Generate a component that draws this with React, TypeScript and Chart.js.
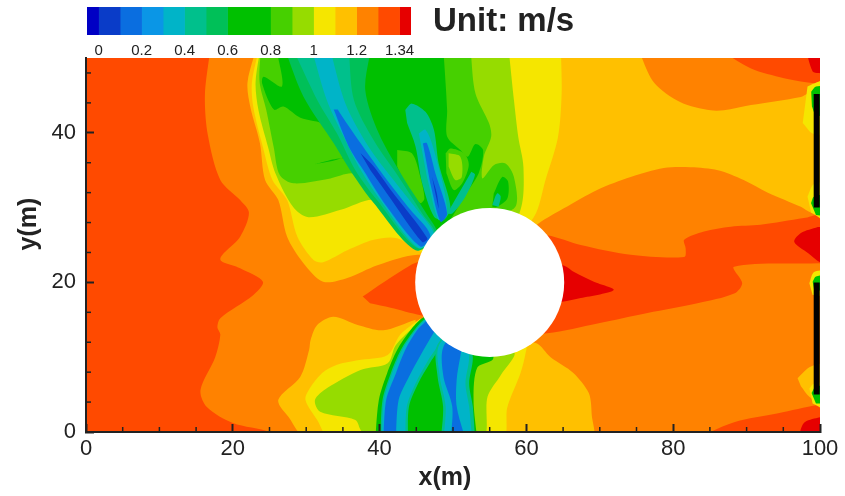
import React, { useEffect, useRef } from "react";
import { Chart, registerables } from "chart.js";

Chart.register(...registerables);

type P = [number, number];

// ---- palette of contour levels ----
const C_NAVY = "#0000c4";
const C_BLUE1 = "#0a3cc8";
const C_BLUE2 = "#0a6ee0";
const C_BLUE3 = "#0a96e6";
const C_CYAN = "#00b4c8";
const C_TEAL = "#00c08c";
const C_TGREEN = "#00c058";
const C_GREEN = "#00c000";
const C_LGREEN = "#46d000";
const C_LIME = "#96dc00";
const C_YELLOW = "#f5e600";
const C_YORANGE = "#ffc000";
const C_ORANGE = "#ff8200";
const C_RORANGE = "#ff4a00";
const C_RED = "#e60000";

// ---- colour bar ----
const barEdges = [-0.054, 0, 0.1, 0.2, 0.3, 0.4, 0.5, 0.6, 0.7, 0.8, 0.9, 1.0, 1.1, 1.2, 1.3, 1.4, 1.453];
const barColors = [C_NAVY, C_BLUE1, C_BLUE2, C_BLUE3, C_CYAN, C_TEAL, C_TGREEN, C_GREEN, C_GREEN, C_LGREEN, C_LIME, C_YELLOW, C_YORANGE, C_ORANGE, C_RORANGE, C_RED];
const barTickValues = [0, 0.2, 0.4, 0.6, 0.8, 1, 1.2, 1.4];
const barTickLabels = ["0", "0.2", "0.4", "0.6", "0.8", "1", "1.2", "1.34"];

// ---- axes ----
const xMinorTicks = [5, 10, 15, 25, 30, 35, 45, 50, 55, 65, 70, 75, 85, 90, 95];
const yMinorTicks = [4, 8, 12, 16, 24, 28, 32, 36, 44, 48];

// ---- contour regions, x(m), y(m) ----
const baseField: P[] = [[-1, -1], [101, -1], [101, 51], [-1, 51]];
const orangeField: P[] = [[16.9, 51], [16.2, 45], [16.6, 39.7], [18.3, 33.7], [21, 31], [22.2, 29.3], [21, 26.1], [18.3, 23.1], [21, 21.9], [24.1, 20.1], [22.8, 18.3], [18.3, 15.2], [17.9, 14], [18.3, 13], [17.6, 10], [15.6, 5.6], [16.5, 3.3], [20, 1.2], [25.1, 0], [26, -1], [101, -1], [101, 51]];
const yoUpper: P[] = [[23.1, 51], [22, 46.7], [22.4, 43.4], [23.7, 38.6], [24.4, 33.7], [26.2, 31], [27.4, 26.1], [29.6, 22.6], [32.3, 20.1], [35.6, 20.6], [39.7, 22.3], [45.2, 23.7], [55.1, 23], [61.7, 27.9], [65.1, 29.9], [69.7, 32.4], [74.2, 34.1], [78.7, 35.3], [82.4, 35.4], [86.1, 35], [89.6, 33.7], [92.9, 32], [97.4, 30.1], [98.8, 29.3], [101, 29], [101, 51]];
const yoLowerLeft: P[] = [[44.9, 15], [40.5, 13.6], [37, 14.3], [33.7, 15.4], [31.5, 14.3], [30.6, 12.3], [30.4, 11], [29.2, 7.4], [26.2, 4.3], [27.6, 2], [30.2, -1], [45, -1]];
const yoLowerRight: P[] = [[56.5, 12.3], [61.3, 11.9], [63.3, 10], [66.4, 7.9], [68.5, 5.2], [68.9, 2.3], [68.9, -1], [50, -1]];
const orangeLobe: P[] = [[75.3, 51], [77.4, 46.7], [81, 44.1], [85.1, 43], [86.9, 43], [90.6, 43.7], [97.4, 44.8], [98.5, 45.3], [101, 45.3], [101, 51]];
const roTop: P[] = [[86.5, 51], [90.6, 48.6], [95.1, 47.3], [97.85, 46.8], [100, 46.6], [101, 46.6], [101, 51]];
const redTop: P[] = [[98.1, 51], [99, 48.2], [99.8, 48], [101, 48], [101, 51]];
const roBottom: P[] = [[82.8, -1], [88.3, 1.3], [94.3, 2.5], [99.7, 3.6], [101, 3.6], [101, -1]];
const redBottom: P[] = [[97, -1], [97.8, 1.2], [99.7, 1.9], [101, 2], [101, -1]];
const roBand: P[] = [[55, 27], [62.85, 26.3], [67.4, 25], [74.2, 23.7], [81.5, 23.4], [81.7, 24.5], [81.5, 25.7], [84.2, 26.8], [87.85, 27.45], [91.9, 27.7], [97.8, 28.6], [101, 29], [101, 22.5], [99.8, 22.55], [88.3, 22.1], [89.4, 19.9], [88.3, 18.5], [83.3, 17.2], [76.5, 15.9], [69.7, 14.5], [62.85, 13.2], [55, 13]];
const redWake: P[] = [[60, 22], [64.9, 22.3], [66.5, 21.4], [69.2, 20.1], [71.9, 19], [67.4, 17.9], [64.9, 17.4], [60, 17]];
const redEdge: P[] = [[99.7, 27.4], [97.4, 26.6], [96.5, 25.4], [98.4, 23.9], [100, 22.7], [101, 22.7], [101, 27.4]];
const roBlob: P[] = [[37.7, 18.1], [40.5, 20], [44.2, 22.3], [45.2, 22.7], [50, 23], [50, 15], [45.6, 15.6], [41.5, 16.6], [38.7, 17.2]];

const yellowUpper: P[] = [[23.5, 51], [22.6, 46.7], [22.8, 43.4], [24.1, 38.1], [25.4, 33.7], [27.4, 31], [28.8, 26.1], [31, 23], [32.3, 22.7], [35.6, 24.3], [39.2, 25.7], [42.4, 25.9], [45.6, 24.1], [55.1, 22.3], [61, 28.7], [62.6, 33.7], [64.3, 39.4], [64.8, 45.3], [64.7, 51]];
const yellowLowerLeft: P[] = [[45.6, 15.2], [42.8, 13], [41.1, 10.3], [37, 9.6], [34.2, 9], [32.3, 8], [30.6, 6], [29.9, 4.3], [31.5, 1.6], [33.3, -1], [45, -1]];
const yellowLowerRight: P[] = [[50, 12], [59.9, 11.6], [59.9, 10.6], [59.2, 7.9], [57.4, 3.3], [56.8, -1], [50, -1]];
const limeUpper: P[] = [[23.7, 51], [23.1, 46.7], [23.5, 43], [24.8, 38.1], [25.8, 34.6], [28.2, 30.1], [30.3, 28.7], [34.7, 29.7], [39.4, 31], [42.8, 27.7], [46.2, 24.3], [55.1, 22.3], [59.2, 29.7], [59.6, 35.4], [58.9, 39.4], [58.3, 44.4], [57.6, 51]];
const limeLowerLeft: P[] = [[44.9, 14.3], [42.2, 11.6], [41.1, 9.2], [37.4, 8.3], [32.9, 5.9], [31.2, 4.3], [31.9, 2.7], [36.7, 1.6], [37.4, 0.3], [38.5, -1], [45, -1]];
const limeLowerRight: P[] = [[50, 12], [58.3, 10.7], [56.5, 7.6], [54.7, 4.7], [54.2, -1], [50, -1]];

const lgreenUpper: P[] = [[23.8, 51], [23.65, 46.8], [24.56, 43.05], [25.56, 38.15], [26.4, 34.36], [28.3, 33.24], [33.3, 33.9], [36.56, 34.5], [39.65, 31.46], [45.1, 24.8], [55.1, 28.8], [58.5, 30.1], [58.3, 34.1], [57.15, 35.9], [55.6, 35.7], [54, 33.9], [54.2, 36.8], [55.2, 39.5], [54.9, 41.3], [53.05, 45.3], [52.4, 51]];
const greenUpper: P[] = [[26, 51], [26.7, 46.2], [24.2, 47.5], [24, 46.6], [25.6, 43.1], [26.9, 43.5], [29.2, 42], [32.6, 41], [35.3, 37], [31.2, 35.8], [35.6, 36.5], [37.8, 33.2], [45.1, 24.8], [49.2, 27.9], [51.5, 31.5], [53.5, 34.6], [54.1, 37.7], [53.05, 38.5], [52, 36.8], [51, 37.7], [49.2, 39.5], [49.2, 43.05], [48.7, 51]];
const lgreenPatch: P[] = [[49, 37.25], [49.65, 37.9], [51.5, 37.25], [52.15, 35.7], [51.25, 33.25], [50.1, 32.35], [49.1, 34.6]];
const limeSpot: P[] = [[49.4, 37.25], [51, 36.8], [51.2, 34.1], [50.3, 33.7], [49.4, 35.5]];
const lgreenSpot: P[] = [[42.4, 37.7], [44.4, 37.25], [45.55, 34.1], [46.1, 31.2], [45.55, 30.6], [43.7, 32.8], [42.4, 35.5]];
const tealFinger: P[] = [[52.5, 34.8], [53, 34.4], [51.7, 31.5], [49.9, 29.2], [49.2, 29.2]];
const greenLobe: P[] = [[55.55, 31.9], [56.7, 34.1], [57.5, 33.5], [57.4, 31.2], [56, 30.1], [55.35, 30.1]];
const tealLobe: P[] = [[55.35, 30.35], [56, 31.9], [56.5, 31.5], [56.2, 30.1]];

const jet1Tgreen: P[] = [[27.15, 51], [29.65, 44.8], [33.75, 38.6], [36.25, 34.6], [39.2, 30.6], [44.9, 24.3], [47.85, 26.35], [46.5, 29], [43.3, 33.9], [39.9, 39.9], [38.05, 45.7], [38.75, 51]];
const jet1Teal: P[] = [[28.3, 51], [31.5, 44.4], [34.2, 39.9], [36.7, 35], [39.65, 31], [45.1, 24.6], [47.6, 26.35], [45.8, 29.2], [42.6, 34.1], [39.2, 39], [36.5, 44.4], [35.8, 51]];
const jet1Cyan: P[] = [[30.8, 51], [32.8, 44.4], [35.1, 39.5], [37.15, 35.5], [40.1, 31], [45.3, 24.6], [47.4, 26.35], [45.1, 29.7], [41.9, 33.7], [38.5, 38.15], [35.35, 43.9], [33.3, 51]];
const jet1Blue: P[] = [[33.75, 43.1], [35.8, 38.15], [37.8, 35], [41, 30.1], [45.55, 24.8], [46.9, 26.35], [44.2, 29.7], [41, 33.7], [38.05, 37.7], [35.35, 41.5], [34.3, 43.1]];
const jet1Navy: P[] = [[37.4, 37.25], [39.2, 35.5], [41.5, 32.4], [46.5, 25.9], [45.8, 25.4], [41, 31.9], [38.75, 35]];
const jet2Teal: P[] = [[43.5, 43.05], [44.4, 43.9], [46.25, 42.8], [47.4, 40.4], [48.05, 35.9], [49.65, 30.1], [48.75, 28.35], [47.4, 28.8], [45.8, 33.25], [44.9, 38.15], [43.75, 41.3]];
const jet2Cyan: P[] = [[45.35, 39.9], [46.25, 40.4], [47.4, 37.7], [49.2, 29.7], [48.05, 28.35], [46.45, 34.1]];
const jet2Blue: P[] = [[45.9, 38.6], [46.45, 38.6], [47.6, 34.6], [49.2, 29.2], [48.3, 28.1], [46.9, 33.25]];
const jet2Navy: P[] = [[47.15, 34.1], [47.8, 31.9], [48.05, 29.9], [47.6, 31.9]];

const lowerGreen: P[] = [[39.4, -1], [39.9, 4.3], [41, 7.8], [42.4, 11], [44.2, 13.6], [45.8, 15.2], [55, 20], [55.5, 9.9], [53.3, 8.6], [52.8, 4.3], [53.3, -1]];
const lowerLeftTeal: P[] = [[40.1, -1], [40.4, 4.3], [41.5, 7.8], [42.9, 11], [44.7, 13.6], [46, 15], [50, 18], [48.6, 12], [46.9, 9.3], [45.25, 6.5], [44, 3.4], [43.85, -1]];
const lowerLeftCyan: P[] = [[40.3, -1], [40.6, 4.3], [41.7, 7.8], [43.1, 11], [44.9, 13.6], [46.1, 14.9], [50, 18], [48.2, 12.1], [46.5, 9.4], [44.9, 6.5], [43.7, 3.4], [43.5, -1]];
const lowerLeftBlue: P[] = [[40.5, -1], [40.9, 4.3], [42.2, 7.8], [43.5, 11], [45.1, 13.6], [46.2, 14.7], [50, 18], [47.2, 13], [45.6, 10.3], [44, 7.4], [42.6, 4.3], [42.2, -1]];
const lowerRightTeal: P[] = [[48.35, -1], [48.65, 3.4], [47.9, 7.4], [47.85, 11.6], [52, 15], [52.7, 9.9], [52.2, 6.5], [52.7, 3.4], [53, -1]];
const lowerRightCyan: P[] = [[48.7, -1], [49, 3.4], [48.2, 7.4], [48.1, 11.6], [52, 15], [52.2, 9.9], [51.7, 6.5], [52.2, 3.4], [52.6, -1]];
const lowerRightBlue: P[] = [[49.7, -1], [49.9, 3.4], [48.7, 7.4], [48.7, 11.4], [52, 15], [51, 10.1], [50.5, 7], [50.5, 3.4], [51.7, -1]];

const topBarYellow: P[] = [[98.3, 46.2], [99.2, 46.6], [101, 47], [101, 40], [99, 39.9], [97.65, 41.3]];
const topBarGreen: P[] = [[98.8, 45.5], [99.45, 46.2], [101, 46], [101, 42.4], [99.45, 42.4], [98.9, 43.5]];
const topBarLowYellow: P[] = [[98.3, 31.5], [99.2, 33.2], [101, 33], [101, 28.3], [98.8, 29.3]];
const topBarLowGreen: P[] = [[98.77, 30.6], [99.2, 31.5], [101, 31.5], [101, 29], [99.45, 29]];
const lowBarYellow: P[] = [[98.55, 19.9], [99.2, 21.4], [101, 21.4], [101, 18.3], [99, 18.3]];
const lowBarGreen: P[] = [[99, 20.1], [99.45, 20.8], [101, 20.8], [101, 19], [99.2, 19]];
const lowBarOrange: P[] = [[96.95, 7.2], [98.3, 8.5], [99.45, 9], [101, 9], [101, 3.4], [98.55, 4.7], [97.4, 6.1]];
const lowBarLowYellow: P[] = [[98.55, 5.8], [99.2, 6.5], [101, 6.5], [101, 3], [99, 3.8]];
const lowBarLowGreen: P[] = [[98.85, 5.2], [99.45, 6.1], [101, 6], [101, 4], [99.45, 3.8]];

// ---- solid obstacles ----
const cylinderCentre = [{ x: 55, y: 20 }];
const wallUpper = [{ x: 99.55, y: 45.2 }, { x: 99.55, y: 30 }];
const wallLower = [{ x: 99.55, y: 20 }, { x: 99.55, y: 5 }];

const regionLayers: [P[], string][] = [
  [baseField, C_RORANGE], [orangeField, C_ORANGE], [yoUpper, C_YORANGE], [yoLowerLeft, C_YORANGE], [yoLowerRight, C_YORANGE],
  [orangeLobe, C_ORANGE], [roTop, C_RORANGE], [redTop, C_RED], [roBottom, C_RORANGE], [redBottom, C_RED],
  [roBand, C_RORANGE], [redWake, C_RED], [redEdge, C_RED], [roBlob, C_RORANGE],
  [yellowUpper, C_YELLOW], [yellowLowerLeft, C_YELLOW], [yellowLowerRight, C_YELLOW],
  [limeUpper, C_LIME], [limeLowerLeft, C_LIME], [limeLowerRight, C_LIME],
  [lgreenUpper, C_LGREEN], [greenUpper, C_GREEN], [lgreenPatch, C_LGREEN], [limeSpot, C_LIME], [lgreenSpot, C_LGREEN],
  [tealFinger, C_TEAL], [greenLobe, C_GREEN], [tealLobe, C_TEAL],
  [jet1Tgreen, C_TGREEN], [jet1Teal, C_TEAL], [jet1Cyan, C_CYAN], [jet1Blue, C_BLUE2], [jet1Navy, C_BLUE1],
  [jet2Teal, C_TEAL], [jet2Cyan, C_CYAN], [jet2Blue, C_BLUE2], [jet2Navy, C_BLUE1],
  [lowerGreen, C_GREEN], [lowerLeftTeal, C_TEAL], [lowerLeftCyan, C_CYAN], [lowerLeftBlue, C_BLUE2], [lowerRightTeal, C_TEAL], [lowerRightCyan, C_CYAN], [lowerRightBlue, C_BLUE2],
  [topBarYellow, C_YELLOW], [topBarGreen, C_GREEN], [topBarLowYellow, C_YELLOW], [topBarLowGreen, C_GREEN],
  [lowBarYellow, C_YELLOW], [lowBarGreen, C_GREEN], [lowBarOrange, C_YORANGE], [lowBarLowYellow, C_YELLOW], [lowBarLowGreen, C_GREEN],
];

const FONT = "'Liberation Sans', Arial, sans-serif";
const INK = "#222222";

const annotations = {
  id: "annotations",
  afterDraw(chart: any) {
    const { ctx, scales } = chart;
    ctx.save();
    ctx.strokeStyle = INK;
    ctx.lineWidth = 1.5;
    const bottom = scales.y.getPixelForValue(0);
    const left = scales.x.getPixelForValue(0);
    xMinorTicks.forEach((v) => {
      const px = scales.x.getPixelForValue(v);
      ctx.beginPath(); ctx.moveTo(px, bottom); ctx.lineTo(px, bottom - 5); ctx.stroke();
    });
    yMinorTicks.forEach((v) => {
      const py = scales.y.getPixelForValue(v);
      ctx.beginPath(); ctx.moveTo(left, py); ctx.lineTo(left + 5, py); ctx.stroke();
    });
    ctx.fillStyle = INK;
    ctx.textAlign = "center";
    ctx.textBaseline = "middle";
    ctx.font = `bold 25px ${FONT}`;
    ctx.fillText("x(m)", 445, 478);
    ctx.save();
    ctx.translate(29, 224);
    ctx.rotate(-Math.PI / 2);
    ctx.fillText("y(m)", 0, 0);
    ctx.restore();
    ctx.font = `bold 33px ${FONT}`;
    ctx.textAlign = "left";
    ctx.fillText("Unit: m/s", 433, 22);
    ctx.restore();
  },
};

export default function App() {
  const mainRef = useRef<HTMLCanvasElement>(null);
  const barRef = useRef<HTMLCanvasElement>(null);

  useEffect(() => {
    const regionSets = regionLayers
      .map(([pts, color]) => ({
        data: pts.map(([x, y]) => ({ x, y })),
        showLine: true,
        fill: "shape",
        tension: 0.3,
        borderWidth: 0,
        pointRadius: 0,
        backgroundColor: color,
        borderColor: color,
      }))
      .reverse();
    const wall = (data: { x: number; y: number }[]) => ({
      data,
      showLine: true,
      fill: false,
      borderWidth: 6,
      borderColor: "#000000",
      backgroundColor: "#000000",
      pointRadius: 0,
    });
    const main = new Chart(mainRef.current!, {
      type: "scatter",
      data: {
        datasets: [
          wall(wallUpper),
          wall(wallLower),
          { data: cylinderCentre, pointRadius: 74.5, pointHoverRadius: 74.5, backgroundColor: "#ffffff", borderWidth: 0, pointBorderWidth: 0 },
          ...regionSets,
        ] as any,
      },
      options: {
        responsive: false,
        animation: false,
        events: [],
        layout: { autoPadding: false, padding: { left: 0, right: 25, top: 58, bottom: 0 } },
        plugins: { legend: { display: false }, tooltip: { enabled: false } },
        scales: {
          x: {
            type: "linear", min: 0, max: 100,
            afterFit(s: any) { s.height = 64; s.paddingLeft = 0; s.paddingRight = 0; },
            border: { display: true, color: INK, width: 2, z: 2 },
            grid: { drawOnChartArea: false, drawTicks: true, tickLength: -8, tickColor: INK, tickWidth: 2, z: 2 },
            ticks: { stepSize: 20, padding: 12, maxRotation: 0, autoSkip: false, color: INK, font: { family: FONT, size: 22 } },
          },
          y: {
            type: "linear", min: 0, max: 50,
            afterFit(s: any) { s.width = 86; s.paddingTop = 0; s.paddingBottom = 0; },
            border: { display: true, color: INK, width: 2, z: 2 },
            grid: { drawOnChartArea: false, drawTicks: true, tickLength: -8, tickColor: INK, tickWidth: 2, z: 2 },
            ticks: { stepSize: 20, padding: 18, includeBounds: false, autoSkip: false, color: INK, font: { family: FONT, size: 22 } },
          },
        },
      } as any,
      plugins: [annotations],
    });

    const bar = new Chart(barRef.current!, {
      type: "bar",
      data: {
        labels: [""],
        datasets: barColors.map((color, i) => ({
          data: [[barEdges[i], barEdges[i + 1]]],
          backgroundColor: color,
          borderWidth: 0,
          barPercentage: 1,
          categoryPercentage: 1,
          grouped: false,
        })) as any,
      },
      options: {
        indexAxis: "y",
        responsive: false,
        animation: false,
        events: [],
        layout: { autoPadding: false, padding: { left: 87, right: 29, top: 7, bottom: 0 } },
        plugins: { legend: { display: false }, tooltip: { enabled: false } },
        scales: {
          x: {
            type: "linear", min: barEdges[0], max: barEdges[barEdges.length - 1],
            afterBuildTicks(s: any) { s.ticks = barTickValues.map((value) => ({ value })); },
            afterFit(s: any) { s.height = 27; s.paddingLeft = 0; s.paddingRight = 0; },
            border: { display: false },
            grid: { display: false, drawTicks: false },
            ticks: {
              padding: 7, maxRotation: 0, autoSkip: false, color: INK, font: { family: FONT, size: 15 },
              callback: (v: number) => barTickLabels[barTickValues.findIndex((t) => Math.abs(t - v) < 1e-6)],
            },
          },
          y: { display: false },
        },
      } as any,
    });
    return () => { main.destroy(); bar.destroy(); };
  }, []);

  return (
    <div style={{ position: "fixed", left: 0, top: 0, width: 845, height: 496, background: "#fff", overflow: "hidden" }}>
      <canvas ref={mainRef} width={845} height={496} style={{ position: "absolute", left: 0, top: 0, width: 845, height: 496, filter: "blur(0.6px)" }} />
      <canvas ref={barRef} width={440} height={62} style={{ position: "absolute", left: 0, top: 0, width: 440, height: 62, filter: "blur(0.6px)" }} />
    </div>
  );
}
